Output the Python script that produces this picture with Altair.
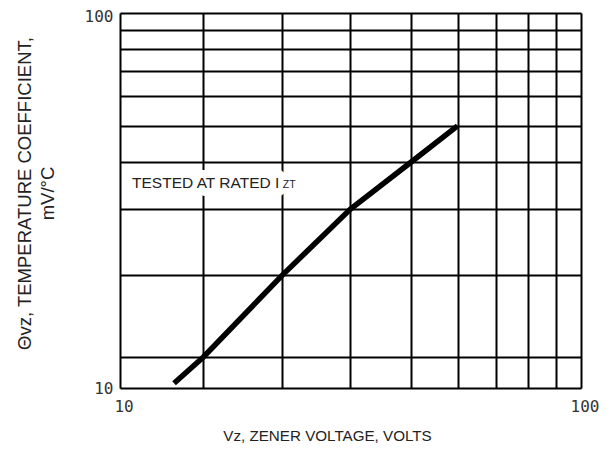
import altair as alt
import pandas as pd

# Curve: Vz (volts) vs temperature coefficient (mV/°C)
vz = [13.1, 15.17, 22.5, 31.62, 42.76, 53.97]
theta = [10.3, 12.1, 20.0, 30.0, 40.0, 50.0]

# grid lines
x_grid = [15.17, 22.5, 31.62, 42.76, 53.97, 65.4, 76.58, 88.26]
y_grid = [12.1, 20, 30, 40, 50, 60, 70, 80, 90]
x_labels = [10, 100]
y_labels = [10, 100]

# annotation
note_text = ["TESTED AT RATED I"]
note_x = [10.62]
note_y = [35.3]
sub_text = ["ZT"]
sub_x = [22.55]
sub_y = [34.7]

curve = pd.DataFrame({"vz": vz, "theta": theta})
note = pd.DataFrame({"t": note_text, "x": note_x, "y": note_y})
sub = pd.DataFrame({"t": sub_text, "x": sub_x, "y": sub_y})

xs = alt.Scale(type="log", domain=[10, 100], nice=False)
ys = alt.Scale(type="log", domain=[10, 100], nice=False)

xaxis = alt.Axis(
    values=x_labels[:1] + x_grid + x_labels[1:],
    labelExpr="(datum.value == 10 || datum.value == 100) ? datum.value : ''",
    grid=True, gridColor="black", gridWidth=2, gridOpacity=1,
    ticks=False, domain=False,
    labelFont="DejaVu Sans Mono", labelFontSize=16, labelColor="#333",
    labelPadding=10, labelFlush=False, labelOffset=3.5,
    title="Vz, ZENER VOLTAGE, VOLTS", titleFont="Liberation Sans",
    titleFontSize=15.2, titleFontWeight="normal", titleColor="#222",
    titleX=207, titleY=40, titleAnchor="start", titleAlign="center",
)
yaxis = alt.Axis(
    values=y_labels[:1] + y_grid + y_labels[1:],
    labelExpr="(datum.value == 10 || datum.value == 100) ? datum.value : ''",
    grid=True, gridColor="black", gridWidth=2, gridOpacity=1,
    ticks=False, domain=False,
    labelFont="DejaVu Sans Mono", labelFontSize=16, labelColor="#333",
    labelPadding=7, labelFlush=False,
    labelOffset={"condition": {"test": "datum.value == 100", "value": 3}, "value": 0},
    title=["Θvz, TEMPERATURE COEFFICIENT,", "mV/°C"], titleFont="Liberation Sans",
    titleFontSize=18.5, titleFontWeight="normal", titleColor="#222",
    titleLineHeight=23, titleX=-86, titleY=180, titleAnchor="start",
    titleAlign="center", titleBaseline="bottom",
)

line = alt.Chart(curve).mark_line(color="black", strokeWidth=5.5, strokeCap="butt").encode(
    x=alt.X("vz:Q", scale=xs, axis=xaxis),
    y=alt.Y("theta:Q", scale=ys, axis=yaxis),
)

halo = alt.Chart(note).mark_text(
    align="left", baseline="middle", font="Liberation Sans", fontSize=15.5,
    color="white", stroke="white", strokeWidth=16, strokeJoin="round",
).encode(x=alt.X("x:Q", scale=xs), y=alt.Y("y:Q", scale=ys), text="t:N")

txt = alt.Chart(note).mark_text(
    align="left", baseline="middle", font="Liberation Sans", fontSize=15.5, color="#222",
).encode(x=alt.X("x:Q", scale=xs), y=alt.Y("y:Q", scale=ys), text="t:N")

subtxt = alt.Chart(sub).mark_text(
    align="left", baseline="middle", font="Liberation Sans", fontSize=10.5, color="#222",
).encode(x=alt.X("x:Q", scale=xs), y=alt.Y("y:Q", scale=ys), text="t:N")

chart = alt.layer(halo, line, txt, subtxt).properties(
    width=461, height=375,
    autosize=alt.AutoSizeParams(type="none"),
    padding={"left": 112, "top": 5, "right": 24, "bottom": 56},
).configure_view(stroke="black", strokeWidth=2.5).configure(background="white")

chart.save("out.html", embed_options={"renderer": "svg", "actions": False})
